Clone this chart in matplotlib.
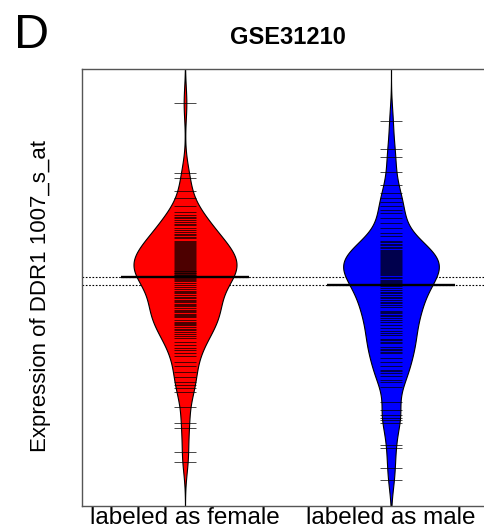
import numpy as np
import matplotlib.pyplot as plt

plt.rcParams['font.family'] = ['Liberation Sans', 'DejaVu Sans']

# DDR1 1007_s_at expression per sample, by labeled sex
groups = ['labeled as female', 'labeled as male']

female = [13.03, 12.33, 12.28, 12.15, 12.08, 12.00, 11.94, 11.91, 11.89, 11.88,
          11.86, 11.84, 11.82, 11.81, 11.78, 11.76, 11.74, 11.72, 11.71, 11.69,
          11.68, 11.65, 11.64, 11.63, 11.62, 11.61, 11.60, 11.59, 11.58, 11.57,
          11.56, 11.55, 11.54, 11.53, 11.52, 11.51, 11.50, 11.49, 11.48, 11.47,
          11.46, 11.45, 11.44, 11.43, 11.42, 11.41, 11.40, 11.39, 11.38, 11.37,
          11.36, 11.35, 11.35, 11.34, 11.33, 11.33, 11.32, 11.31, 11.31, 11.30,
          11.29, 11.28, 11.27, 11.26, 11.25, 11.23, 11.21, 11.19, 11.17, 11.15,
          11.14, 11.13, 11.11, 11.09, 11.08, 11.06, 11.05, 11.04, 11.02, 11.01,
          11.00, 10.98, 10.96, 10.95, 10.94, 10.92, 10.91, 10.90, 10.89, 10.86,
          10.84, 10.83, 10.82, 10.81, 10.79, 10.77, 10.76, 10.74, 10.72, 10.70,
          10.68, 10.64, 10.61, 10.58, 10.56, 10.53, 10.50, 10.44, 10.40, 10.34,
          10.29, 10.24, 10.21, 10.18, 10.14, 9.99, 9.83, 9.78, 9.54, 9.44]

male = [12.85, 12.57, 12.49, 12.34, 12.21, 12.13, 12.08, 12.04, 12.00, 11.96,
        11.93, 11.88, 11.83, 11.78, 11.73, 11.70, 11.65, 11.64, 11.62, 11.61,
        11.59, 11.58, 11.56, 11.55, 11.54, 11.53, 11.52, 11.51, 11.50, 11.49,
        11.48, 11.47, 11.46, 11.45, 11.44, 11.43, 11.42, 11.41, 11.40, 11.39,
        11.38, 11.37, 11.36, 11.35, 11.34, 11.33, 11.32, 11.31, 11.29, 11.28,
        11.26, 11.25, 11.24, 11.23, 11.22,
        11.20, 11.18, 11.16, 11.14, 11.13, 11.11, 11.09, 11.08, 11.06, 11.04,
        11.03, 11.01, 10.99, 10.95, 10.94, 10.93, 10.91, 10.90, 10.88, 10.86,
        10.84, 10.81, 10.78, 10.75, 10.73, 10.71, 10.67, 10.66, 10.64, 10.63,
        10.59, 10.57, 10.56, 10.54, 10.53, 10.48, 10.44, 10.40, 10.36, 10.35,
        10.33, 10.30, 10.26, 10.24, 10.19, 10.04, 9.96, 9.91, 9.88, 9.86,
        9.83, 9.61, 9.58, 9.38, 9.26]

colors = ['#ff0000', '#0000ff']

y_lo, y_hi = 9.0, 13.37
bw = 0.16

fig = plt.figure(figsize=(4.85, 5.29), dpi=100)
# right edge of the box runs just past the figure
ax = fig.add_axes([82 / 485, 23 / 529, 412 / 485, 437 / 529])

grid = np.linspace(y_lo - 0.2, y_hi + 0.2, 800)


def kde(vals):
    v = np.asarray(vals)
    z = (grid[:, None] - v[None, :]) / bw
    return np.exp(-0.5 * z ** 2).sum(axis=1) / (len(v) * bw * np.sqrt(2 * np.pi))


data = [female, male]
dens = [kde(v) for v in data]
scale = 0.25 / max(d.max() for d in dens)
centres = [np.median(v) for v in data]

# dotted reference lines at each group average
for m in centres:
    ax.axhline(m, color='black', lw=0.8, ls=(0, (1.5, 1.5)), zorder=1)

for i, (vals, d, c, m) in enumerate(zip(data, dens, colors, centres)):
    x = i + 1
    w = d * scale
    ax.fill_betweenx(grid, x - w, x + w, facecolor=c, edgecolor='black',
                     lw=0.8, zorder=2)
    ax.hlines(vals, x - 0.054, x + 0.054, color='black', lw=0.5, zorder=3)
    ax.hlines(m, x - 0.31, x + 0.31, color='black', lw=1.7, zorder=4)

ax.set_xlim(0.5, 2.5)
ax.set_ylim(y_lo, y_hi)
ax.set_yticks([])
ax.set_xticks([1, 2], groups, fontsize=17.5)
ax.tick_params(axis='x', length=0, pad=1)
for s in ax.spines.values():
    s.set_color('#555555')
    s.set_linewidth(1.0)

fig.text(288 / 485, 1 - 37 / 529, 'GSE31210', ha='center', va='center',
         fontsize=17, fontweight='bold')
fig.text(14 / 485, 1 - 48 / 529, 'D', ha='left', va='baseline', fontsize=35)
fig.text(41 / 485, 1 - 296 / 529, 'Expression of DDR1 1007_s_at',
         rotation=90, ha='center', va='center', fontsize=16)

fig.savefig('out.png', dpi=100)
